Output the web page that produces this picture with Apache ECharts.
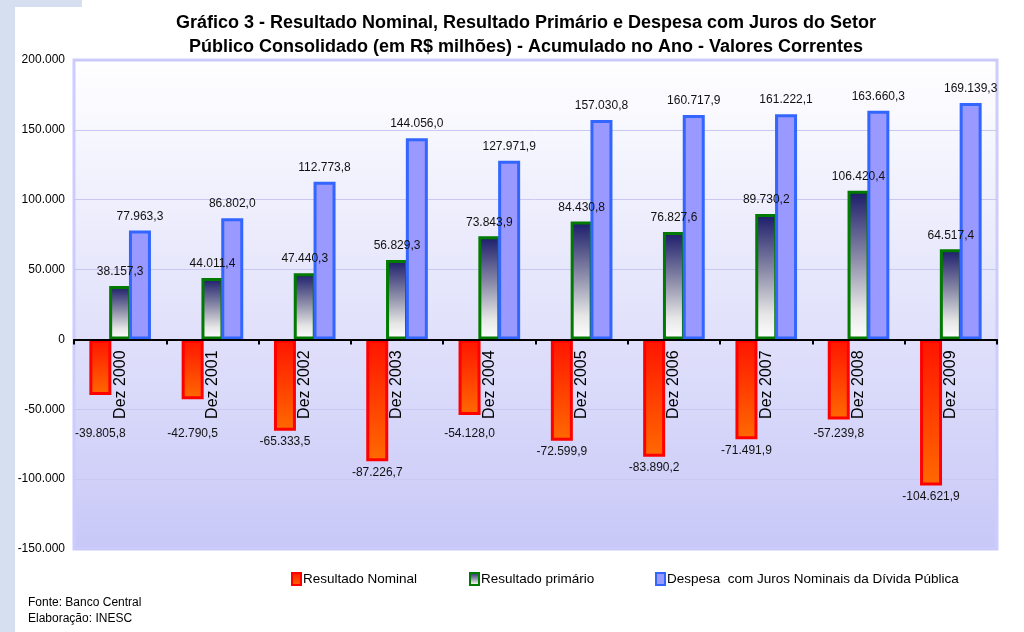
<!DOCTYPE html>
<html><head><meta charset="utf-8">
<script src="https://cdn.jsdelivr.net/npm/echarts@6/dist/echarts.min.js"></script>
<style>html,body{margin:0;padding:0;background:#fff}#c{width:1024px;height:632px}</style>
</head><body><div id="c"></div>
<script>
const categories = ['Dez 2000','Dez 2001','Dez 2002','Dez 2003','Dez 2004','Dez 2005','Dez 2006','Dez 2007','Dez 2008','Dez 2009'];
const resultadoNominal = [-39805.8,-42790.5,-65333.5,-87226.7,-54128.0,-72599.9,-83890.2,-71491.9,-57239.8,-104621.9];
const resultadoPrimario = [38157.3,44011.4,47440.3,56829.3,73843.9,84430.8,76827.6,89730.2,106420.4,64517.4];
const despesaJuros = [77963.3,86802.0,112773.8,144056.0,127971.9,157030.8,160717.9,161222.1,163660.3,169139.3];
const seriesNames = ['Resultado Nominal','Resultado primário','Despesa  com Juros Nominais da Dívida Pública'];
const yTicks = {min:-150000, max:200000, interval:50000};

function fmtNum(v, dec){
  const neg = v < 0;
  let s = Math.abs(v).toFixed(dec);
  let parts = s.split('.');
  let i = parts[0].replace(/\B(?=(\d{3})+(?!\d))/g, '.');
  return (neg ? '-' : '') + i + (dec ? ',' + parts[1] : '');
}

const FONT = '"Liberation Sans", Arial, sans-serif';
const chart = echarts.init(document.getElementById('c'), null, {renderer:'canvas'});

const redStyle = {
  color: new echarts.graphic.LinearGradient(0,0,0,1,[{offset:0,color:'#ff1400'},{offset:1,color:'#ff6a00'}]),
  borderColor:'#ff0000', borderWidth:3
};
const greenStyle = {
  color: new echarts.graphic.LinearGradient(0,0,0,1,[{offset:0,color:'#1a1a6a'},{offset:0.45,color:'#8a8aa8'},{offset:0.8,color:'#e6e6e6'},{offset:1,color:'#ffffff'}]),
  borderColor:'#007a00', borderWidth:3
};
const blueStyle = {color:'#9999ff', borderColor:'#3366ff', borderWidth:3};

const labelBase = {show:true, fontFamily:FONT, fontSize:12, color:'#111'};

function legendAt(left, name, st){
  return {show:true, left:left, top:567, itemWidth:9, itemHeight:12, itemGap:0,
    data:[{name:name, icon:'rect'}], textStyle:{fontFamily:FONT, fontSize:13.5, color:'#000', padding:[0,0,0,-3]},
    itemStyle:{borderWidth:2, borderColor:st.borderColor}, selectedMode:false};
}

const option = {
  animation:false,
  backgroundColor:'#ffffff',
  title:{
    text:'Gráfico 3 - Resultado Nominal, Resultado Primário e Despesa com Juros do Setor\nPúblico Consolidado (em R$ milhões) - Acumulado no Ano - Valores Correntes',
    left:521, top:6, textAlign:'center',
    textStyle:{fontFamily:FONT, fontWeight:'bold', fontSize:18, lineHeight:24, color:'#000'}
  },
  legend:[legendAt(286, seriesNames[0], redStyle), legendAt(464, seriesNames[1], greenStyle), legendAt(650, seriesNames[2], blueStyle)],
  grid:{left:74, right:27, top:60, bottom:83, show:true, borderColor:'#ccccff', borderWidth:3,
    backgroundColor:new echarts.graphic.LinearGradient(0,0,0,1,[{offset:0,color:'#ffffff'},{offset:1,color:'#c8c8f8'}])},
  xAxis:{type:'category', data:categories, boundaryGap:true, position:'bottom', offset:0,
    axisLine:{onZero:false, lineStyle:{color:'#000', width:2}},
    axisTick:{show:true, length:5, lineStyle:{color:'#000', width:2}},
    axisLabel:{rotate:90, margin:11, fontFamily:FONT, fontSize:16, color:'#000'},
    splitLine:{show:false}, z:3},
  yAxis:{type:'value', min:yTicks.min, max:yTicks.max, interval:yTicks.interval,
    axisLine:{show:false}, axisTick:{show:false},
    axisLabel:{fontFamily:FONT, fontSize:12, color:'#000', margin:9, formatter:v=>fmtNum(v,0)},
    splitLine:{lineStyle:{color:'#c8c8f2', width:1}}},
  series:[
    {name:seriesNames[0], type:'bar', data:resultadoNominal, barWidth:22, barGap:'-10%', itemStyle:redStyle,
     label:Object.assign({}, labelBase, {position:'bottom', distance:6, formatter:p=>fmtNum(p.value,1)})},
    {name:seriesNames[1], type:'bar', data:resultadoPrimario, barWidth:22, barGap:'-10%', itemStyle:greenStyle,
     label:Object.assign({}, labelBase, {position:'top', distance:8, formatter:p=>fmtNum(p.value,1)})},
    {name:seriesNames[2], type:'bar', data:despesaJuros, barWidth:22, barGap:'-10%', itemStyle:blueStyle,
     label:Object.assign({}, labelBase, {position:'top', distance:8, formatter:p=>fmtNum(p.value,1)})}
  ],
  graphic:[
    {type:'rect', left:0, top:0, shape:{width:15, height:632}, style:{fill:'#d5dff0'}, silent:true},
    {type:'rect', left:0, top:0, shape:{width:82, height:7}, style:{fill:'#d5dff0'}, silent:true},
    {type:'text', left:28, top:597, style:{text:'Fonte: Banco Central', font:'12px '+FONT, fill:'#000'}},
    {type:'text', left:28, top:613, style:{text:'Elaboração: INESC', font:'12px '+FONT, fill:'#000'}}
  ]
};
chart.setOption(option);

// move the category axis (line, ticks, labels) up to the zero line
const zeroY = chart.convertToPixel({yAxisIndex:0}, 0);
const bottomY = chart.convertToPixel({yAxisIndex:0}, yTicks.min);
// keep negative value labels clear of the rotated category labels
const nomData = resultadoNominal.map(v => {
  const bottom = chart.convertToPixel({yAxisIndex:0}, v);
  const d = Math.max(5, (zeroY + 88) - bottom);
  return {value:v, label:{distance:d}};
});
chart.setOption({xAxis:{offset:zeroY - bottomY}, series:[{data:nomData}]});
</script></body></html>
